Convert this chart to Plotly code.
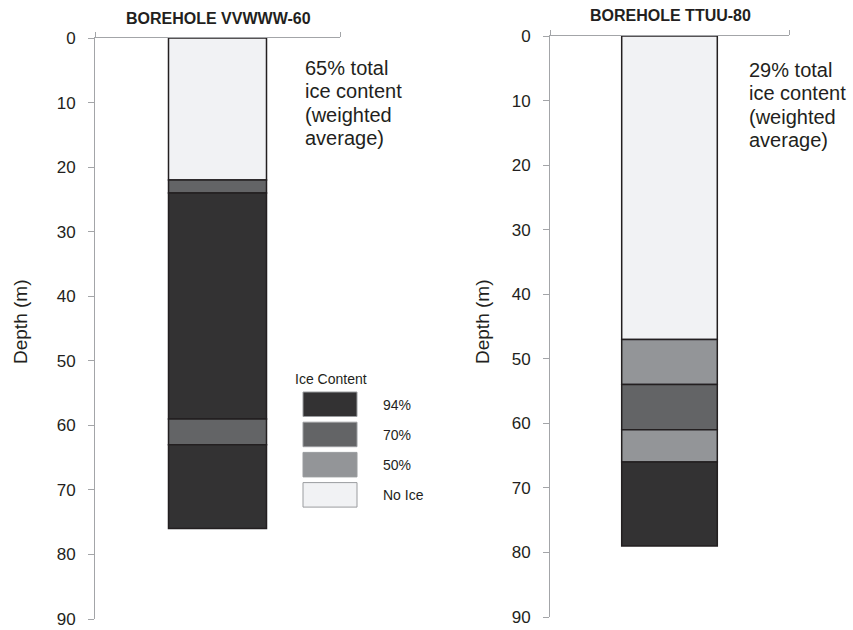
import plotly.graph_objects as go

# Ice-content classes and their fill colours
classes = ["94%", "70%", "50%", "No Ice"]
class_colors = {"94%": "#333233", "70%": "#636466", "50%": "#939598", "No Ice": "#f1f2f4"}

# Borehole VVWWW-60: layer tops/bottoms (m) and class
vv_top = [0, 22, 24, 59, 63]
vv_bottom = [22, 24, 59, 63, 76]
vv_class = ["No Ice", "70%", "94%", "70%", "94%"]

# Borehole TTUU-80
tt_top = [0, 47, 54, 61, 66]
tt_bottom = [47, 54, 61, 66, 79]
tt_class = ["No Ice", "50%", "70%", "50%", "94%"]

titles = ["BOREHOLE VVWWW-60", "BOREHOLE TTUU-80"]
notes = [["65% total", "ice content", "(weighted", "average)"],
         ["29% total", "ice content", "(weighted", "average)"]]
depth_ticks = list(range(0, 100, 10))

W, H = 853, 630
FONT = "Liberation Sans, Arial, sans-serif"
TXT = "#231f20"
AXC = "#a3a5a8"


def px(x):
    return x / W


def py(y):
    return 1 - y / H


fig = go.Figure()

panels = [
    dict(top=vv_top, bot=vv_bottom, cls=vv_class, xa="x", ya="y"),
    dict(top=tt_top, bot=tt_bottom, cls=tt_class, xa="x2", ya="y2"),
]
for p in panels:
    for t, b, c in zip(p["top"], p["bot"], p["cls"]):
        fig.add_trace(go.Bar(
            x=[0.5], y=[b - t], base=[t], width=0.4,
            marker=dict(color=class_colors[c], line=dict(color=TXT, width=1.5)),
            xaxis=p["xa"], yaxis=p["ya"], showlegend=False, name=c,
            hovertemplate=f"{c}: %{{base}}–{b} m<extra></extra>",
        ))

xcommon = dict(range=[0, 1], side="top", showline=True, linecolor=AXC, linewidth=1,
               ticks="outside", tickvals=[0, 1], ticklen=5, tickcolor=AXC,
               showticklabels=False, showgrid=False, zeroline=False, fixedrange=True,
               automargin=False)
ycommon = dict(range=[90, 0], showline=True, linecolor=AXC, linewidth=1,
               ticks="outside", tickvals=depth_ticks, ticklen=6, tickcolor=AXC,
               ticklabelstandoff=9, tickfont=dict(family=FONT, size=17, color=TXT),
               showgrid=False, zeroline=False, fixedrange=True, automargin=False)

fig.update_layout(
    width=W, height=H, margin=dict(l=0, r=0, t=0, b=0, autoexpand=False),
    paper_bgcolor="white", plot_bgcolor="white", barmode="overlay",
    xaxis=dict(domain=[px(95), px(340)], anchor="y", **xcommon),
    yaxis=dict(domain=[py(619), py(38)], anchor="x", **ycommon),
    xaxis2=dict(domain=[px(550), px(789)], anchor="y2", **xcommon),
    yaxis2=dict(domain=[py(617), py(36)], anchor="x2", **ycommon),
)

ann = []
# Panel titles
for title, cx, cy in zip(titles, [218, 670], [18, 15]):
    ann.append(dict(text=f"<b>{title}</b>", x=px(cx), y=py(cy), xref="paper", yref="paper",
                    xanchor="center", yanchor="middle", showarrow=False,
                    font=dict(family=FONT, size=16, color=TXT)))
# Axis titles
for cx in [20, 482]:
    ann.append(dict(text="Depth (m)", x=px(cx), y=py(322), xref="paper", yref="paper",
                    xanchor="center", yanchor="middle", textangle=-90, showarrow=False,
                    font=dict(family=FONT, size=19, color=TXT)))
# Weighted-average notes
for lines, x0, ys in zip(notes, [303, 747], [[68, 91, 115, 138], [70, 93, 117, 140]]):
    for line, yy in zip(lines, ys):
        ann.append(dict(text=line, x=px(x0), y=py(yy), xref="paper", yref="paper",
                        xanchor="left", yanchor="middle", showarrow=False,
                        font=dict(family=FONT, size=20, color=TXT)))

# Ice-content key
shapes = []
ann.append(dict(text="Ice Content", x=px(331), y=py(379), xref="paper", yref="paper",
                xanchor="center", yanchor="middle", showarrow=False,
                font=dict(family=FONT, size=14, color=TXT)))
for i, c in enumerate(classes):
    y0 = 392 + i * 30.2
    shapes.append(dict(type="rect", xref="paper", yref="paper",
                       x0=px(303), x1=px(357), y0=py(y0), y1=py(y0 + 24.5),
                       fillcolor=class_colors[c], line=dict(color="#9a9c9f", width=1)))
    ann.append(dict(text=c, x=px(381), y=py(y0 + 12.5), xref="paper", yref="paper",
                    xanchor="left", yanchor="middle", showarrow=False,
                    font=dict(family=FONT, size=14, color=TXT)))

fig.update_layout(annotations=ann, shapes=shapes)
fig.write_html("out.html")
